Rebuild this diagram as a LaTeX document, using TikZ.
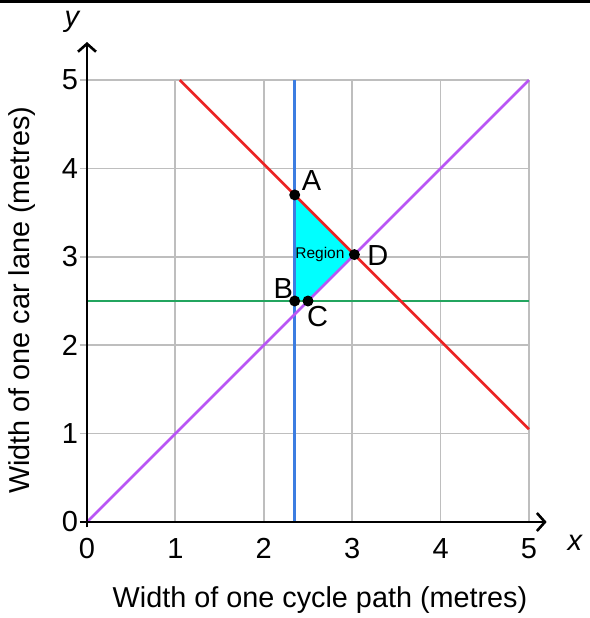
\documentclass[tikz,border=0pt]{standalone}
\usepackage{fontspec}
\setmainfont{Liberation Sans}
\usetikzlibrary{arrows.meta}
\definecolor{gridgray}{RGB}{190,190,190}
\definecolor{redline}{RGB}{235,35,35}
\definecolor{purpleline}{RGB}{185,85,245}
\definecolor{blueline}{RGB}{60,125,225}
\definecolor{greenline}{RGB}{35,165,95}
\definecolor{regioncyan}{RGB}{0,255,255}
\begin{document}
\begin{tikzpicture}[x=88.4pt,y=88.4pt,
  gridline/.style={draw=gridgray,line width=1.8pt},
  axisline/.style={draw=black,line width=2.6pt},
  cline/.style={line width=2.7pt},
  dot/.style={circle,fill=black,inner sep=0pt,minimum size=11pt},
  ticklab/.style={font=\fontsize{29}{32}\selectfont},
  ptlab/.style={font=\fontsize{29}{32}\selectfont,inner sep=0pt},
  titlelab/.style={font=\fontsize{28.8}{32}\selectfont}]
\useasboundingbox (-0.984,-1.086) rectangle (5.690,5.905);
\fill[white] (-0.984,-1.086) rectangle (5.690,5.905);
\fill[black] (-0.984,5.87) rectangle (5.690,5.905);
% grid
\foreach \i in {1,...,5} {
  \draw[gridline] (\i,0) -- (\i,5);
}
\foreach \j in {0,...,5} {
  \draw[gridline] (-0.08,\j) -- (5,\j);
}
% points
\coordinate (A) at (2.35,3.70);
\coordinate (D) at (3.025,3.025);
\coordinate (B) at (2.35,2.5);
\coordinate (C) at (2.5,2.5);
% region
\fill[regioncyan] (A) -- (D) -- (C) -- (B) -- cycle;
% lines
\coordinate (g1) at (0,2.5); \coordinate (g2) at (5,2.5);
\coordinate (b1) at (2.35,0); \coordinate (b2) at (2.35,5);
\coordinate (p1) at (0,0); \coordinate (p2) at (5,5);
\coordinate (r1) at (1.05,5); \coordinate (r2) at (5,1.05);
\draw[cline,greenline] (g1) -- (g2);
\draw[cline,blueline] (b1) -- (b2);
\draw[cline,purpleline] (p1) -- (p2);
\draw[cline,redline] (r1) -- (r2);
% axes
\coordinate (xs) at (-0.08,0);
\coordinate (ys) at (0,-0.06);
\coordinate (xe) at (5.2,0);
\coordinate (ye) at (0,5.43);
\draw[axisline,-{Straight Barb[length=8pt,width=18pt,line width=2.6pt]}] (xs) -- (xe);
\draw[axisline,-{Straight Barb[length=8pt,width=18pt,line width=2.6pt]}] (ys) -- (ye);
% axis letters
\node[font=\fontsize{29}{32}\selectfont\itshape] (ylab) at (-0.17,5.66) {y};
\node[font=\fontsize{29}{32}\selectfont\itshape] (xlab) at (5.52,-0.24) {x};
% tick labels
\foreach \i in {0,...,5} {
  \node[ticklab] (xt\i) at (\i,-0.30) {\i};
}
\foreach \j in {0,...,5} {
  \node[ticklab,anchor=east,inner sep=0pt] (ytl\j) at (-0.10,\j) {\j};
}
% titles
\node[titlelab] (xtitle) at (2.636,-0.88) {Width of one cycle path (metres)};
\node[titlelab,rotate=90] (ytitle) at (-0.74,2.51) {Width of one car lane (metres)};
% dots and labels
\node[dot] (nA) at (A) {};
\node[dot] (nD) at (D) {};
\node[dot] (nB) at (B) {};
\node[dot] (nC) at (C) {};
\node[ptlab] (lA) at (2.54,3.86) {A};
\node[ptlab] (lB) at (2.22,2.64) {B};
\node[ptlab] (lC) at (2.61,2.33) {C};
\node[ptlab] (lD) at (3.29,3.02) {D};
\node[font=\fontsize{15.5}{18}\selectfont,inner sep=0pt] (reg) at (2.635,3.03) {Region};
\end{tikzpicture}
\end{document}
